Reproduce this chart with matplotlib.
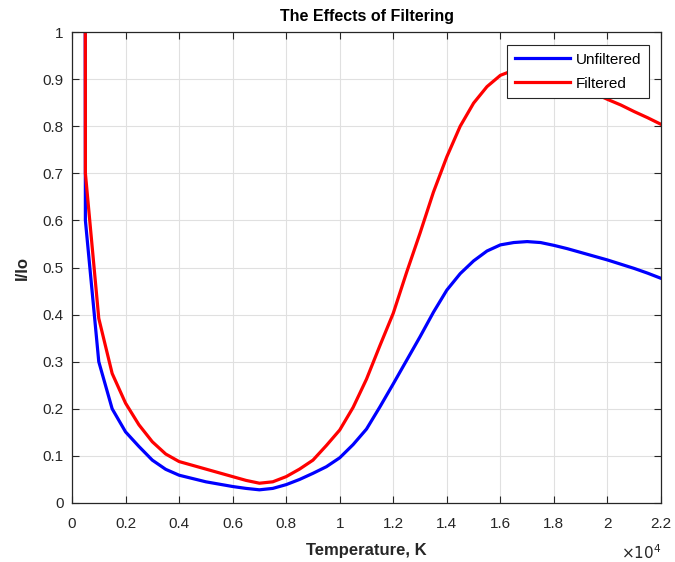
import matplotlib
matplotlib.use("Agg")
import matplotlib.pyplot as plt

# Temperature samples (K) and intensity ratios I/Io
temps = [480, 500, 1000, 1500, 2000, 2500, 3000, 3500, 4000, 4500, 5000,
         5500, 6000, 6500, 7000, 7500, 8000, 8500, 9000, 9500, 10000,
         10500, 11000, 11500, 12000, 12500, 13000, 13500, 14000, 14500,
         15000, 15500, 16000, 16500, 17000, 17500, 18000, 18500, 19000,
         19500, 20000, 20500, 21000, 21500, 22000]

unfiltered = [2.0, 0.60, 0.30, 0.20, 0.151, 0.120, 0.091, 0.0715, 0.059,
              0.052, 0.045, 0.040, 0.035, 0.031, 0.028, 0.031, 0.039,
              0.050, 0.063, 0.077, 0.096, 0.124, 0.157, 0.204, 0.253,
              0.303, 0.353, 0.405, 0.452, 0.487, 0.514, 0.535, 0.548,
              0.553, 0.555, 0.553, 0.547, 0.540, 0.532, 0.524, 0.516,
              0.507, 0.498, 0.488, 0.477]

filtered = [2.5, 0.70, 0.392, 0.275, 0.212, 0.166, 0.130, 0.104, 0.088,
            0.080, 0.072, 0.064, 0.056, 0.048, 0.042, 0.045, 0.056,
            0.072, 0.091, 0.122, 0.155, 0.203, 0.263, 0.334, 0.403,
            0.490, 0.573, 0.660, 0.735, 0.800, 0.849, 0.884, 0.908,
            0.919, 0.923, 0.920, 0.910, 0.895, 0.882, 0.870, 0.857,
            0.845, 0.831, 0.818, 0.804]

x_ticks = [0, 2000, 4000, 6000, 8000, 10000, 12000, 14000, 16000, 18000,
           20000, 22000]
x_tick_labels = ["0", "0.2", "0.4", "0.6", "0.8", "1", "1.2", "1.4", "1.6",
                 "1.8", "2", "2.2"]
y_ticks = [0, 0.1, 0.2, 0.3, 0.4, 0.5, 0.6, 0.7, 0.8, 0.9, 1.0]
y_tick_labels = ["0", "0.1", "0.2", "0.3", "0.4", "0.5", "0.6", "0.7",
                 "0.8", "0.9", "1"]

plt.rcParams["font.family"] = ["Liberation Sans", "DejaVu Sans"]
text_color = "#262626"

fig = plt.figure(figsize=(6.75, 5.62), dpi=100)
ax = fig.add_axes([72 / 675, 1 - 503 / 562, 589 / 675, 471 / 562])

ax.plot(temps, unfiltered, color=(0, 0, 1), lw=2.3, label="Unfiltered")
ax.plot(temps, filtered, color=(1, 0, 0), lw=2.3, label="Filtered")

ax.set_xlim(0, 22000)
ax.set_ylim(0, 1)
ax.set_xticks(x_ticks)
ax.set_xticklabels(x_tick_labels)
ax.set_yticks(y_ticks)
ax.set_yticklabels(y_tick_labels)

ax.grid(True, color="#e0e0e0", lw=0.8)
ax.set_axisbelow(True)
ax.tick_params(direction="in", length=5, width=0.8, top=True, right=True,
               colors=text_color, labelsize=11)
ax.tick_params(axis="x", pad=10)
ax.tick_params(axis="y", pad=6)
for side in ax.spines.values():
    side.set_color(text_color)
    side.set_linewidth(0.9)

ax.set_title("The Effects of Filtering", fontsize=11.5, fontweight="bold",
             color="black", pad=8)
ax.set_xlabel("Temperature, K", fontsize=12, fontweight="bold",
              color=text_color, labelpad=9)
ax.set_ylabel("I/Io", fontsize=12, fontweight="bold", color=text_color,
              labelpad=9)

ax.text(1.0, -0.085, r"$\times10^{4}$", transform=ax.transAxes,
        ha="right", va="top", fontsize=11, color=text_color)

leg = ax.legend(loc="upper right", bbox_to_anchor=(0.9796, 0.972),
                fontsize=11, frameon=True, fancybox=False,
                handlelength=3.6, handletextpad=0.4, borderpad=0.5,
                labelspacing=0.65, borderaxespad=0)
leg.get_frame().set_edgecolor(text_color)
leg.get_frame().set_linewidth(0.8)
leg.get_frame().set_alpha(1)

fig.savefig("out.png", dpi=100)
